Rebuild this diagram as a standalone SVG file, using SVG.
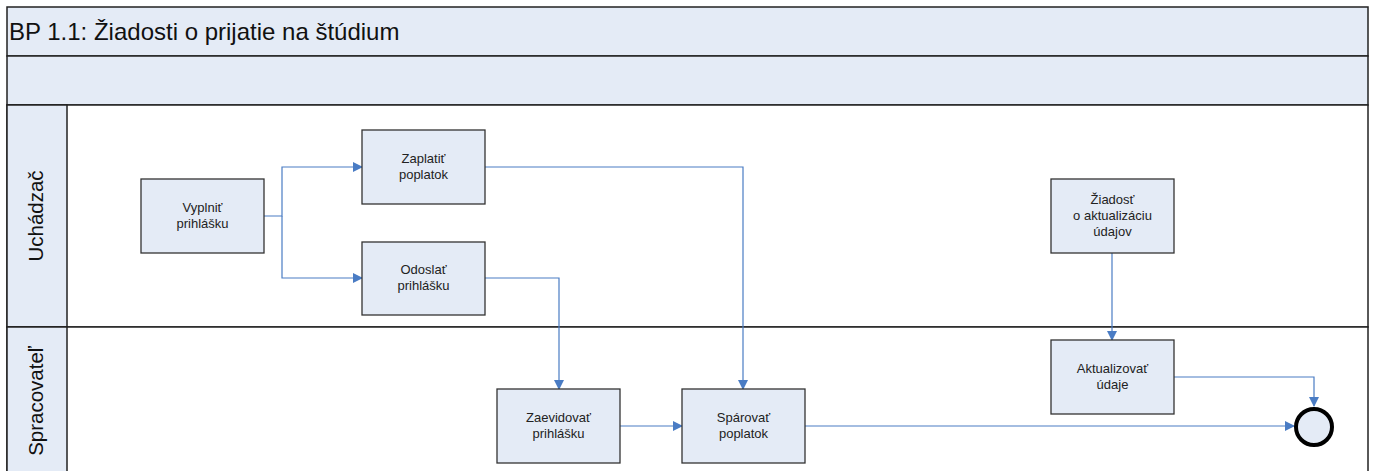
<svg xmlns="http://www.w3.org/2000/svg" width="1376" height="471" viewBox="0 0 1376 471">
  <style>
    .band { fill: #e4ebf6; stroke: #222; stroke-width: 1.5; }
    .lane { fill: #ffffff; stroke: #222; stroke-width: 1.5; }
    .task { fill: #e4ebf6; stroke: #333; stroke-width: 1.3; }
    .tt { font-family: "Liberation Sans", Arial, sans-serif; font-size: 13px; fill: #222; text-anchor: middle; }
    .lt { font-family: "Liberation Sans", Arial, sans-serif; font-size: 20.5px; fill: #111; text-anchor: middle; }
    .flow { fill: none; stroke: #4a7cc4; stroke-width: 1.2; }
  </style>
  <defs>
    <marker id="arr" markerWidth="10" markerHeight="10" refX="9" refY="5" orient="auto" markerUnits="userSpaceOnUse">
      <path d="M0,0 L10,5 L0,10 Z" fill="#4a7cc4"/>
    </marker>
  </defs>

  <rect width="1376" height="471" fill="#ffffff"/>

  <!-- pool header bands -->
  <g id="pool">
    <rect class="band" x="7" y="7" width="1361" height="49"/>
    <text x="9" y="40" font-family="'Liberation Sans', Arial, sans-serif" font-size="24" fill="#111">BP 1.1: Žiadosti o prijatie na štúdium</text>
    <rect class="band" x="7" y="56" width="1361" height="49"/>
  </g>

  <!-- lanes -->
  <g id="lane-uchadzac">
    <rect class="lane" x="7" y="105" width="1361" height="222"/>
    <rect class="band" x="7" y="105" width="60" height="222"/>
    <text class="lt" transform="translate(43,216) rotate(-90)">Uchádzač</text>
  </g>
  <g id="lane-spracovatel">
    <rect class="lane" x="7" y="327" width="1361" height="150"/>
    <rect class="band" x="7" y="327" width="60" height="150"/>
    <text class="lt" transform="translate(43,401) rotate(-90)">Spracovateľ</text>
  </g>

  <!-- connectors -->
  <g id="connectors">
    <path class="flow" d="M264,216 H282 V167 H362" marker-end="url(#arr)"/>
    <path class="flow" d="M282,216 V278 H362" marker-end="url(#arr)"/>
    <path class="flow" d="M485,167 H743 V389" marker-end="url(#arr)"/>
    <path class="flow" d="M485,278 H559 V389" marker-end="url(#arr)"/>
    <path class="flow" d="M620,426 H682" marker-end="url(#arr)"/>
    <path class="flow" d="M805,426 H1294" marker-end="url(#arr)"/>
    <path class="flow" d="M1112,253 V340" marker-end="url(#arr)"/>
    <path class="flow" d="M1174,377 H1314 V406" marker-end="url(#arr)"/>
  </g>

  <!-- tasks -->
  <g id="vyplnit">
    <rect class="task" x="141" y="179" width="123" height="74"/>
    <text class="tt" x="202.5" y="212">Vyplniť</text>
    <text class="tt" x="202.5" y="228">prihlášku</text>
  </g>
  <g id="zaplatit">
    <rect class="task" x="362" y="130" width="123" height="74"/>
    <text class="tt" x="423.5" y="163">Zaplatiť</text>
    <text class="tt" x="423.5" y="179">poplatok</text>
  </g>
  <g id="odoslat">
    <rect class="task" x="362" y="242" width="123" height="73"/>
    <text class="tt" x="423.5" y="274">Odoslať</text>
    <text class="tt" x="423.5" y="290">prihlášku</text>
  </g>
  <g id="zaevidovat">
    <rect class="task" x="497" y="389" width="123" height="74"/>
    <text class="tt" x="558.5" y="422">Zaevidovať</text>
    <text class="tt" x="558.5" y="438">prihlášku</text>
  </g>
  <g id="sparovat">
    <rect class="task" x="682" y="389" width="123" height="74"/>
    <text class="tt" x="743.5" y="422">Spárovať</text>
    <text class="tt" x="743.5" y="438">poplatok</text>
  </g>
  <g id="ziadost">
    <rect class="task" x="1051" y="179" width="123" height="74"/>
    <text class="tt" x="1112.5" y="204">Žiadosť</text>
    <text class="tt" x="1112.5" y="220">o aktualizáciu</text>
    <text class="tt" x="1112.5" y="236">údajov</text>
  </g>
  <g id="aktualizovat">
    <rect class="task" x="1051" y="340" width="123" height="74"/>
    <text class="tt" x="1112.5" y="373">Aktualizovať</text>
    <text class="tt" x="1112.5" y="389">údaje</text>
  </g>

  <!-- end event -->
  <g id="end">
    <circle cx="1314" cy="427" r="18" fill="#e4ebf6" stroke="#000" stroke-width="4"/>
  </g>
</svg>
